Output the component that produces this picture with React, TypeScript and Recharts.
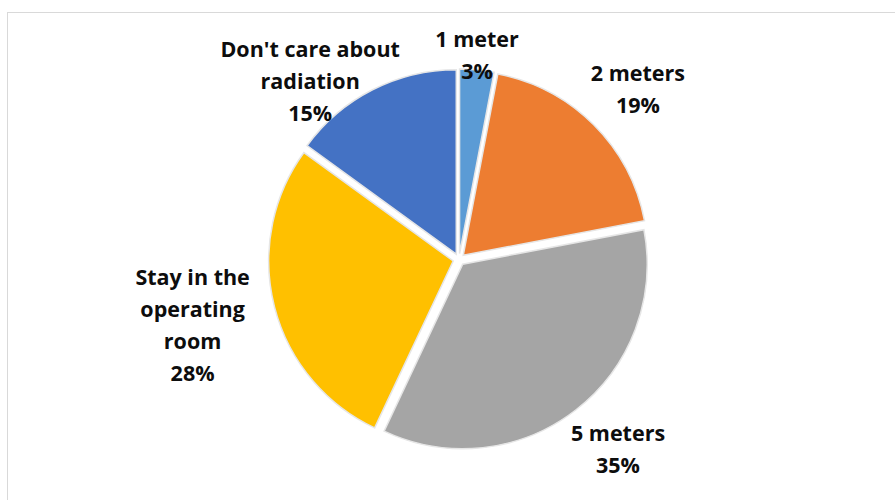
import React from 'react';
import { PieChart, Pie, Cell } from 'recharts';

const categories = ['1 meter', '2 meters', '5 meters', 'Stay in the operating room', "Don't care about radiation"];
const shares = [3, 19, 35, 28, 15];
const labelLines = [['1 meter'], ['2 meters'], ['5 meters'], ['Stay in the', 'operating', 'room'], ["Don't care about", 'radiation']];
const colors = ['#5B9BD5', '#ED7D31', '#A5A5A5', '#FFC000', '#4472C4'];

const data = categories.map((name, i) => ({ name, value: shares[i] }));

const CX = 454;
const CY = 254.5;
const R = 184.5;
const EXPLODE = 6;
// label placement: anchor point, distance from it and angle nudge (degrees clockwise)
const LX = 458;
const LY = 256;
const labelRadius = [203, 246, 250, 274, 230];
const labelShift = [0, 2, -2, 0, -13];
const LINE_H = 32;

const total = shares.reduce((a, b) => a + b, 0);
// mid angle of each slice, clockwise from 12 o'clock
const midAngles = shares.map((v, i) => {
  const before = shares.slice(0, i).reduce((a, b) => a + b, 0);
  return ((before + v / 2) / total) * 360;
});

const renderLabel = (props: any) => {
  const i = props.index;
  const a = ((midAngles[i] + labelShift[i]) * Math.PI) / 180;
  const x = LX + labelRadius[i] * Math.sin(a);
  const y = LY - labelRadius[i] * Math.cos(a);
  const lines = [...labelLines[i], shares[i] + '%'];
  const top = y - ((lines.length - 1) * LINE_H) / 2;
  return (
    <text
      key={'lbl' + i}
      x={x}
      y={top}
      textAnchor="middle"
      dominantBaseline="central"
      fill="#0d0d0d"
      fontFamily="'Open Sans', sans-serif"
      fontWeight="bold"
      fontSize={21.5}
    >
      {lines.map((l, j) => (
        <tspan key={j} x={x} y={top + j * LINE_H}>
          {l}
        </tspan>
      ))}
    </text>
  );
};

const App = () => {
  return (
    <div style={{ position: 'absolute', left: 0, top: 0, width: 895, height: 500, background: '#fff', overflow: 'hidden' }}>
      <div
        style={{
          position: 'absolute',
          left: 7,
          top: 12,
          width: 920,
          height: 520,
          border: '1px solid #d9d9d9',
        }}
      />
      <div style={{ position: 'absolute', left: 0, top: 0 }}>
        <PieChart width={895} height={500}>
          {data.map((_, k) => {
            const a = (midAngles[k] * Math.PI) / 180;
            return (
              <Pie
                key={k}
                data={data}
                dataKey="value"
                nameKey="name"
                cx={CX + EXPLODE * Math.sin(a)}
                cy={CY - EXPLODE * Math.cos(a)}
                outerRadius={R}
                startAngle={90}
                endAngle={-270}
                isAnimationActive={false}
                label={k === 0 ? renderLabel : false}
                labelLine={false}
              >
                {data.map((_, i) => (
                  <Cell
                    key={i}
                    fill={i === k ? colors[i] : 'none'}
                    stroke={i === k ? '#e6e6e6' : 'none'}
                    strokeWidth={1.5}
                  />
                ))}
              </Pie>
            );
          })}
        </PieChart>
      </div>
    </div>
  );
};

export default App;
